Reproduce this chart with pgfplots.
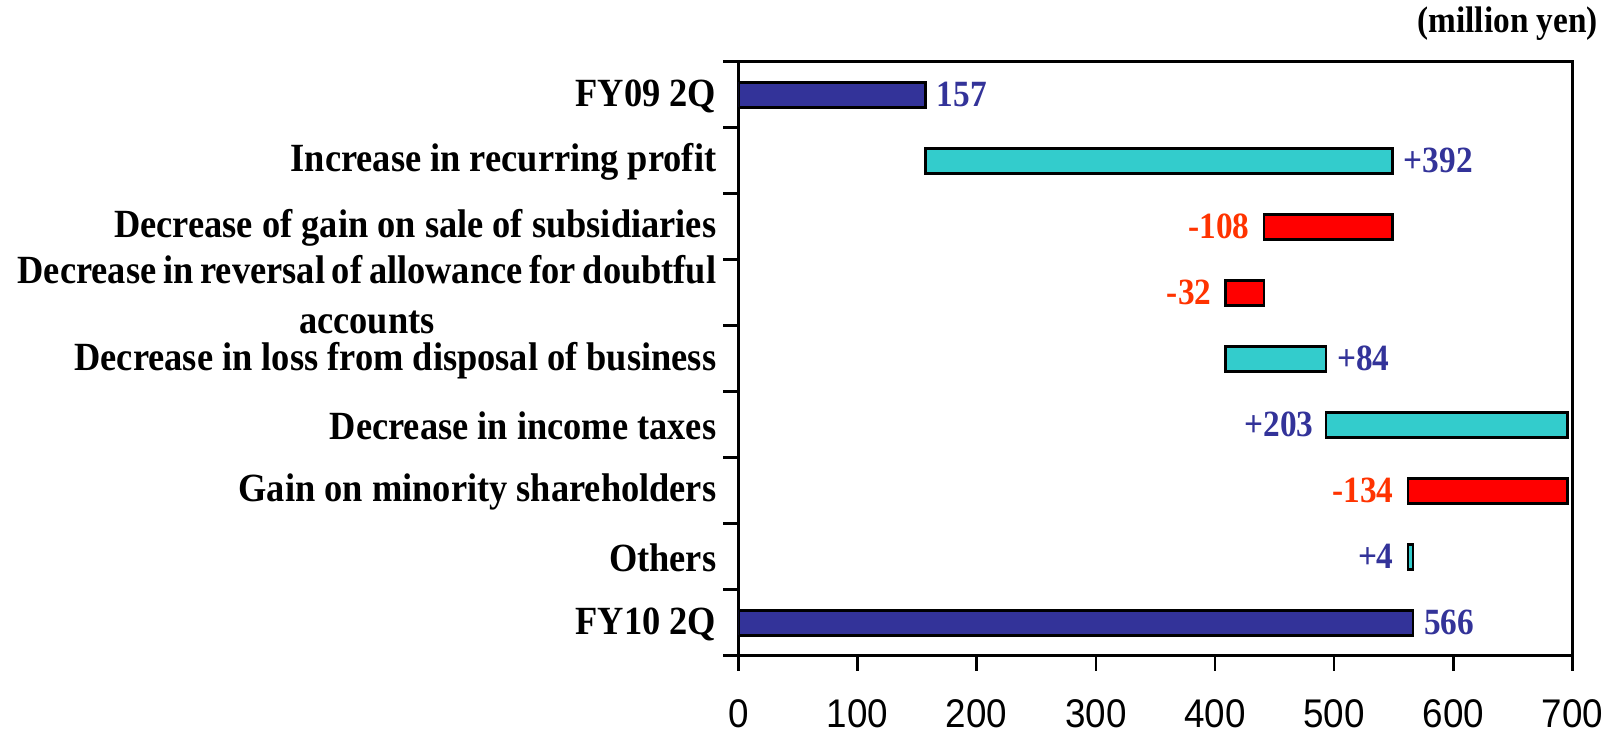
\documentclass[border=0pt]{standalone}
\usepackage{pgfplots}
\pgfplotsset{compat=1.18}
\usepackage{fontspec}
\setmainfont{Liberation Serif}
\newfontfamily\labfont{Liberation Serif}[FakeStretch=0.91]
\newfontfamily\vfont{Liberation Serif}[FakeStretch=0.9]
\newfontfamily\tickfont{Liberation Sans}[FakeStretch=0.92]
\definecolor{barblue}{HTML}{333399}
\definecolor{barcyan}{HTML}{33CCCC}
\definecolor{barred}{HTML}{FF0000}
\definecolor{txtred}{HTML}{FF3300}
\tikzset{vl/.style={font=\vfont\bfseries\fontsize{18.5}{22}\selectfont, inner sep=0pt}}
\begin{document}
\begin{tikzpicture}
\begin{axis}[
  name=ax,
  at={(0,0)}, anchor=south west,
  scale only axis,
  width=417.1pt, height=297pt,
  xbar stacked,
  bar width=12.5pt,
  xmin=0, xmax=700, ymin=-0.5, ymax=8.5,
  xtick={0,100,...,700},
  ytick={-0.5,0.5,...,8.5},
  yticklabels={FY10 2Q, Others, Gain on minority shareholders, Decrease in income taxes, Decrease in loss from disposal of business, {\spaceskip=3.4pt plus 1pt Decrease in reversal of allowance for doubtful\\accounts}, Decrease of gain on sale of subsidiaries, Increase in recurring profit, FY09 2Q, {}},
  xtick pos=bottom, ytick pos=left,
  tick align=outside,
  major tick length=7.5pt,
  tick style={line width=1.3pt, black},
  axis line style={line width=1.3pt},
  /pgf/number format/assume math mode=true,
  xticklabel style={font=\tickfont\fontsize{20}{24}\selectfont, inner sep=0pt},
  xticklabel shift=14.4pt,
  yticklabel style={font=\labfont\bfseries\fontsize{20}{25}\selectfont, align=center, inner sep=0pt, yshift=15.7pt},
  yticklabel shift=3.3pt,
]
\addplot[draw=none, fill=none, forget plot] coordinates {(0,8) (157,7) (441,6) (409,5) (409,4) (493,3) (562,2) (562,1) (0,0)};
\addplot[fill=barred, draw=black, line width=1.3pt] coordinates {(0,8) (0,7) (108,6) (32,5) (0,4) (0,3) (134,2) (0,1) (0,0)};
\addplot[fill=barcyan, draw=black, line width=1.3pt] coordinates {(0,8) (392,7) (0,6) (0,5) (84,4) (203,3) (0,2) (4,1) (0,0)};
\addplot[fill=barblue, draw=black, line width=1.3pt] coordinates {(157,8) (0,7) (0,6) (0,5) (0,4) (0,3) (0,2) (0,1) (566,0)};
\node[vl, anchor=west, text=barblue, xshift=5.5pt] at (axis cs:157,8) {157};
\node[vl, anchor=west, text=barblue, xshift=5.5pt] at (axis cs:549,7) {+392};
\node[vl, anchor=east, text=txtred, xshift=-7pt] at (axis cs:441,6) {-108};
\node[vl, anchor=east, text=txtred, xshift=-7pt] at (axis cs:409,5) {-32};
\node[vl, anchor=west, text=barblue, xshift=5.5pt] at (axis cs:493,4) {+84};
\node[vl, anchor=east, text=barblue, xshift=-6pt] at (axis cs:493,3) {+203};
\node[vl, anchor=east, text=txtred, xshift=-7pt] at (axis cs:562,2) {-134};
\node[vl, anchor=east, text=barblue, xshift=-7pt] at (axis cs:562,1) {+4};
\node[vl, anchor=west, text=barblue, xshift=5.5pt] at (axis cs:566,0) {566};
\end{axis}
\node[anchor=east, inner sep=0pt, font=\vfont\bfseries\fontsize{18.5}{22}\selectfont] at ([shift={(430pt,316pt)}]ax.south west) {(million yen)};
\pgfresetboundingbox
\path[use as bounding box] ([shift={(-369.15pt,-39.15pt)}]ax.south west) rectangle ([shift={(436.35pt,327.85pt)}]ax.south west);
\end{tikzpicture}
\end{document}
